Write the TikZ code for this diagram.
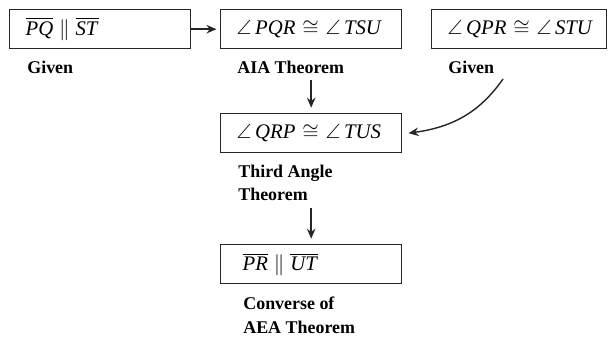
\documentclass[tikz,border=0pt]{standalone}
\usepackage{amsmath, amssymb}
\usepackage{fontspec}
\setmainfont{Liberation Serif}
\usepackage{tikz}
\usetikzlibrary{positioning,arrows.meta}
\tikzset{
  stmt/.style={draw=black!85, line width=0.8pt, anchor=north west, minimum width=3.62cm, minimum height=0.78cm,
               text width=2.98cm, inner xsep=0.32cm, align=left, font=\fontsize{11.8}{13}\selectfont},
  reason/.style={anchor=north west, inner sep=0pt, align=left, font=\fontsize{10.2}{13.2}\selectfont\bfseries},
  flow/.style={-{Stealth[length=2mm, width=1.7mm]}, line width=0.8pt, black!85},
}

\begin{document}
\begin{tikzpicture}[x=0.02cm, y=-0.02cm]
  \useasboundingbox (0,0) rectangle (608,341);
  % statements
  \node[stmt] (PQST) at (9,9) {\mbox{$\overline{\mbox{\textit{PQ}}}\;\|\;\overline{\mbox{\textit{ST}}}$}};
  \node[stmt] (PQR) at (220,9) {\mbox{$\angle$\,\textit{PQR} $\cong$ $\angle$\,\textit{TSU}}};
  \node[stmt, minimum width=3.5cm, text width=2.86cm] (QPR) at (431,9) {\mbox{$\angle$\,\textit{QPR} $\cong$ $\angle$\,\textit{STU}}};
  \node[stmt] (QRP) at (220,113) {\mbox{$\angle$\,\textit{QRP} $\cong$ $\angle$\,\textit{TUS}}};
  \node[stmt, inner xsep=0.44cm, text width=2.74cm] (PRUT) at (220,244) {\mbox{$\overline{\mbox{\textit{PR}}}\;\|\;\overline{\mbox{\textit{UT}}}$}};
  % reasons
  \node[reason] (given1) at (27,61) {Given};
  \node[reason] (aia) at (237,61) {AIA Theorem};
  \node[reason] (given2) at (448,61) {Given};
  \node[reason] (third) at (238,165) {Third Angle\\Theorem};
  \node[reason] (conv) at (243,297) {Converse of\\AEA Theorem};
  % arrows
  \coordinate (bend) at (503,79);
  \draw[flow] (PQST.east) -- ([xshift=-2pt]PQR.west);
  \draw[flow] (PQR.south |- aia.south) ++(0,6) -- ([yshift=3pt]QRP.north);
  \draw[flow] (QRP.south |- third.south) ++(0,6) -- ([yshift=3pt]PRUT.north);
  \draw[flow] (bend) to[out=-125, in=8] ([xshift=3.5pt]QRP.east);
\end{tikzpicture}
\end{document}
